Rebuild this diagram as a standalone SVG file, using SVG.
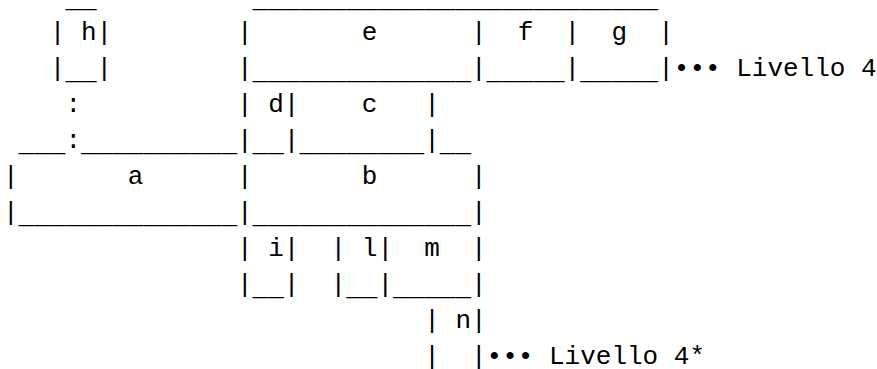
<svg xmlns="http://www.w3.org/2000/svg" width="877" height="369" viewBox="0 0 877 369">
<style>
text{font-family:"Liberation Mono","Courier New",monospace;font-size:26px;fill:#000;white-space:pre}
</style>
<rect width="877" height="369" fill="#fff"/>
<g id="connectors">
  <text x="65.4" y="111.5">:</text>
  <text x="65.4" y="147.5">:</text>
</g>
<g id="node-h">
  <text x="65.4" y="6.5">__</text>
  <text x="49.8" y="39.5" xml:space="preserve">| h|</text>
  <text x="49.8" y="75.5">|</text>
  <text x="65.4" y="78.5">__</text>
  <text x="96.6" y="75.5">|</text>
</g>
<g id="node-e">
  <text x="252.6" y="6.5">_______________</text>
  <text x="237" y="39.5" xml:space="preserve">|       e      |</text>
  <text x="237" y="75.5">|</text>
  <text x="252.6" y="78.5">______________</text>
  <text x="471" y="75.5">|</text>
</g>
<g id="node-f">
  <text x="486.6" y="6.5">______</text>
  <text x="486.6" y="39.5" xml:space="preserve">  f  |</text>
  <text x="486.6" y="78.5">_____</text>
  <text x="564.6" y="75.5">|</text>
</g>
<g id="node-g">
  <text x="580.2" y="6.5">_____</text>
  <text x="580.2" y="39.5" xml:space="preserve">  g  |</text>
  <text x="580.2" y="78.5">_____</text>
  <text x="658.2" y="75.5">|</text>
</g>
<g id="label-livello4">
  <text x="673.8" y="75.5" xml:space="preserve">••• Livello 4</text>
</g>
<g id="node-d">
  <text x="237" y="111.5" xml:space="preserve">| d|</text>
  <text x="237" y="147.5">|</text>
  <text x="252.6" y="150.5">__</text>
  <text x="283.8" y="147.5">|</text>
</g>
<g id="node-c">
  <text x="361.8" y="111.5" xml:space="preserve">c   |</text>
  <text x="299.4" y="150.5">________</text>
  <text x="424.2" y="147.5">|</text>
</g>
<g id="node-a">
  <text x="18.6" y="150.5">___</text>
  <text x="81" y="150.5">__________</text>
  <text x="3" y="183.5" xml:space="preserve">|       a</text>
  <text x="3" y="219.5">|</text>
  <text x="18.6" y="222.5">______________</text>
</g>
<g id="node-b">
  <text x="439.8" y="150.5">__</text>
  <text x="237" y="183.5" xml:space="preserve">|       b      |</text>
  <text x="237" y="219.5">|</text>
  <text x="252.6" y="222.5">______________</text>
  <text x="471" y="219.5">|</text>
</g>
<g id="node-i">
  <text x="237" y="255.5" xml:space="preserve">| i|</text>
  <text x="237" y="291.5">|</text>
  <text x="252.6" y="294.5">__</text>
  <text x="283.8" y="291.5">|</text>
</g>
<g id="node-l">
  <text x="330.6" y="255.5" xml:space="preserve">| l|</text>
  <text x="330.6" y="291.5">|</text>
  <text x="346.2" y="294.5">__</text>
  <text x="377.4" y="291.5">|</text>
</g>
<g id="node-m">
  <text x="424.2" y="255.5" xml:space="preserve">m  |</text>
  <text x="393" y="294.5">_____</text>
  <text x="471" y="291.5">|</text>
</g>
<g id="node-n">
  <text x="424.2" y="327.5" xml:space="preserve">| n|</text>
  <text x="424.2" y="363.5" xml:space="preserve">|  |</text>
</g>
<g id="label-livello4star">
  <text x="486.6" y="363.5" xml:space="preserve">••• Livello 4*</text>
</g>
</svg>
